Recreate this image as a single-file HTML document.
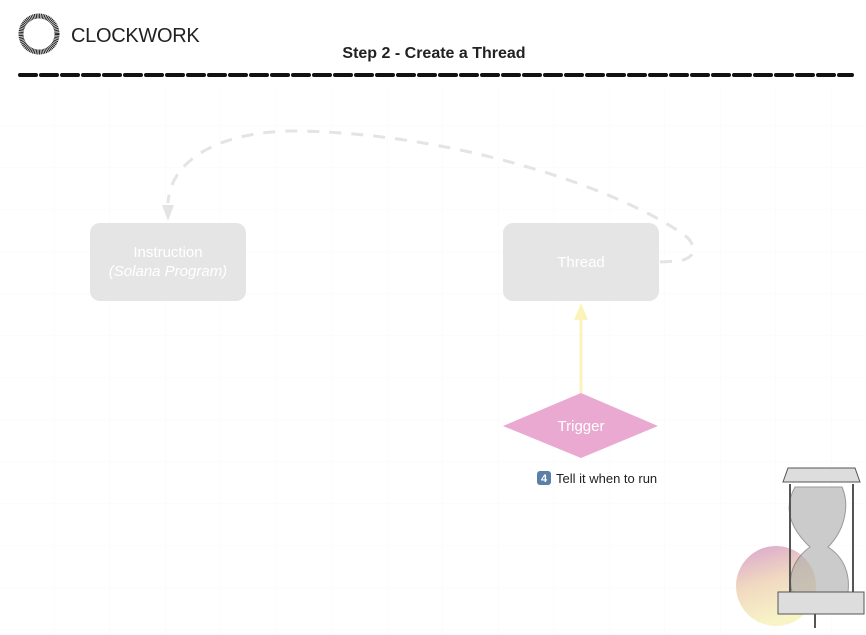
<!DOCTYPE html>
<html><head><meta charset="utf-8"><style>
html,body{margin:0;padding:0;background:#fff;}
body{width:866px;height:635px;position:relative;overflow:hidden;font-family:"Liberation Sans",sans-serif;}
</style></head><body>
<svg width="866" height="635" style="position:absolute;left:0;top:0">
<defs>
<pattern id="g" x="-1" y="0" width="55.5" height="42" patternUnits="userSpaceOnUse">
<path d="M55.5 0V42M0 42H55.5" stroke="#f8f8f8" stroke-width="1" fill="none"/>
</pattern>
<linearGradient id="cg" x1="0" y1="0" x2="0.3" y2="1">
<stop offset="0" stop-color="#d9a4d0"/><stop offset="0.5" stop-color="#f0d8c0"/><stop offset="1" stop-color="#f8f4c8"/>
</linearGradient>
</defs>
<rect x="0" y="88" width="866" height="547" fill="url(#g)"/>
<!-- logo -->
<circle cx="39" cy="34" r="18" fill="none" stroke="#222" stroke-width="5" stroke-dasharray="1 0.6"/>
<text x="71" y="42" font-size="20" fill="#222" font-family="Liberation Sans" letter-spacing="-0.3">CLOCKWORK</text>
<text x="434" y="58" font-size="16" font-weight="bold" fill="#222" text-anchor="middle" font-family="Liberation Sans">Step 2 - Create a Thread</text>
<line x1="20" y1="75" x2="852" y2="75" stroke="#111" stroke-width="4" stroke-dasharray="16 5" stroke-linecap="round"/>
<!-- curve -->
<path d="M660,262 L680,261 Q702,255 688,238 C640,200 480,135 300,131 C220,130 170,160 168,203" fill="none" stroke="#e4e4e4" stroke-width="3" stroke-dasharray="12 10"/>
<polygon points="162,205 174,205 168,221" fill="#e4e4e4"/>
<!-- boxes -->
<rect x="90" y="223" width="156" height="78" rx="10" fill="#e5e5e5"/>
<text x="168" y="257" font-size="15" fill="#fff" text-anchor="middle">Instruction</text>
<text x="168" y="276" font-size="15" fill="#fff" text-anchor="middle" font-style="italic">(Solana Program)</text>
<rect x="503" y="223" width="156" height="78" rx="10" fill="#e5e5e5"/>
<text x="581" y="267" font-size="15" fill="#fff" text-anchor="middle">Thread</text>
<!-- arrow -->
<line x1="581" y1="393" x2="581" y2="318" stroke="#fbf3b9" stroke-width="3"/>
<polygon points="574,320 588,320 581,303" fill="#fbf3b9"/>
<polygon points="503,426 581,393 658,426 581,458" fill="#eaa9d1"/>
<text x="581" y="431" font-size="15" fill="#fff" text-anchor="middle">Trigger</text>
<rect x="537" y="471" width="14" height="14" rx="3" fill="#5b7fa6"/>
<text x="544" y="482" font-size="11" fill="#fff" text-anchor="middle" font-weight="bold">4</text>
<text x="556" y="483" font-size="13" fill="#222">Tell it when to run</text>
<!-- hourglass -->
<circle cx="776" cy="586" r="40" fill="url(#cg)"/>
<g fill="none" stroke="#555" stroke-width="1">
<path d="M783,482 L860,482 L855,468 L788,468 Z" fill="#ddd"/>
<path d="M795,487 C782,510 792,530 810,547 C792,560 788,578 792,592 L848,592 C850,575 845,558 828,547 C845,530 850,505 842,487 Z" fill="#aaa" opacity="0.6"/>
<line x1="790" y1="484" x2="790" y2="600" stroke-width="2"/>
<line x1="853" y1="484" x2="853" y2="600" stroke-width="2"/>
<rect x="778" y="592" width="86" height="22" fill="#ddd"/>
<line x1="815" y1="614" x2="815" y2="628" stroke-width="2"/>
</g>
</svg>
</body></html>
